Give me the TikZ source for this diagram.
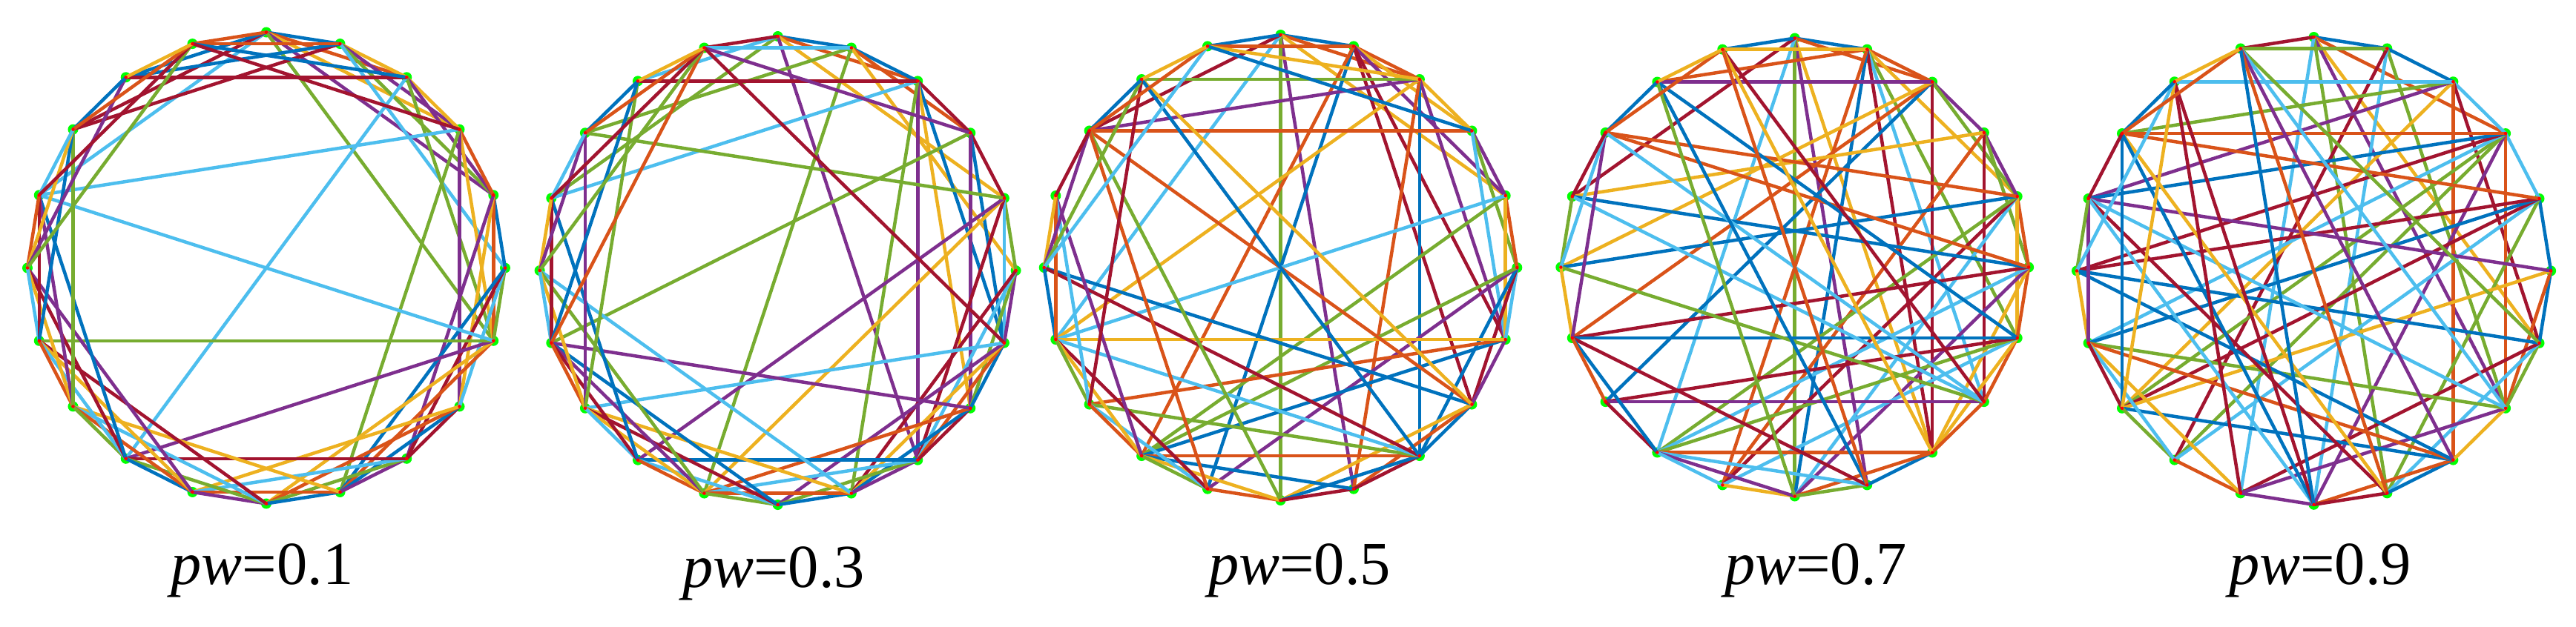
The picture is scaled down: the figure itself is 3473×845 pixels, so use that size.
\documentclass[tikz,border=0pt]{standalone}
\usepackage{fontspec}
\setmainfont{Liberation Serif}
\definecolor{c0}{HTML}{0072BD}
\definecolor{c1}{HTML}{D95319}
\definecolor{c2}{HTML}{EDB120}
\definecolor{c3}{HTML}{7E2F8E}
\definecolor{c4}{HTML}{77AC30}
\definecolor{c5}{HTML}{4DBEEE}
\definecolor{c6}{HTML}{A2142F}
\definecolor{vgreen}{HTML}{00FF00}
\definecolor{vred}{HTML}{FF0000}
\newcount\ecount
\def\splitentry#1:#2:#3\relax{\def\et{#1}\def\ec{#2}}
\def\emptyc{}
\tikzset{
  vtx/.style={circle, fill=vgreen, draw=none, inner sep=0pt, minimum size=2.8pt},
  edgeline/.style={line width=0.9pt},
  lbl/.style={inner sep=0pt, anchor=base, font=\fontsize{16.5pt}{20pt}\selectfont}
}
\newcommand\drawgraph[6]{%
  \foreach \n in {1,...,20}{%
    \node[vtx] (#1n\n) at ({#2+#4*cos(90-18*(\n-1))},{#3-#5*sin(90-18*(\n-1))}) {};
  }
  \global\ecount=0\relax
  \foreach \s/\tl in {#6}{%
    \foreach \t in \tl {%
      \expandafter\splitentry\t::\relax
      \ifx\ec\emptyc\pgfmathtruncatemacro\ci{mod(\the\ecount,7)}\else\let\ci\ec\fi
      \draw[edgeline,c\ci] (#1n\s.center) -- (#1n\et.center);
      \global\advance\ecount by 1\relax
    }
  }
  \foreach \n in {1,...,20}{%
    \fill[vred] (#1n\n.center) circle (0.45pt);
  }
}
\begin{document}
\begin{tikzpicture}[x=0.2pt,y=-0.2pt]
\useasboundingbox (0,0) rectangle (3473,845);
\drawgraph{ga}{359}{361.5}{322}{318}{1/{2,3,4,5,7,17,18,19,20}, 2/{3,4,5,6,18,19,20}, 3/{4,5,7,13,19,20}, 4/{5,7,8,10,17,20}, 5/{6,7,8,9}, 6/{7,8,9,10}, 7/{10,11,13,15,17}, 8/{9,10,11,12}, 9/{10,11,12,13}, 10/{11,12,14}, 11/{12,13,14,15}, 12/{13,14,15,16}, 13/{14,15,16,17}, 14/{15,16,17,18}, 15/{16,17,18}, 16/{17,18,19,20}, 17/{18,20}, 18/{19,20}, 19/{20}}
\drawgraph{gb}{1048.6}{365}{321}{316}{1/{2,3,5,9:3,17,19,20}, 2/{3,4,6,12:4,18,20:5}, 3/{4,7,8:2,9:3,10:4,17:5,19:6}, 4/{5,7,8:3,15:4,20}, 5/{6,7,9,12:2,13:3,18:4}, 6/{7,8,9,10}, 7/{8,9,10,11,14:5,20:6}, 8/{9,10,12,15:3}, 9/{10,11,12,13:0}, 10/{11,12,14,16:5}, 11/{12,13,14,15}, 12/{13,14,15,16}, 13/{14,15,17}, 14/{15,16,18,19:4}, 15/{16,17,19,20:1}, 16/{17,18,20}, 17/{18,20}, 18/{19,20}, 19/{20}}
\drawgraph{gc}{1726.5}{361}{318.8}{314}{1/{2,3,5,10:3,11:4,15:5,18,20}, 2/{3,4,5,7:6,8:6,12:0,13:1,20}, 3/{4,7,9:0,10:1,15:2,18:3,19:4,20}, 4/{5,6,7,18:1,20}, 5/{6,7,13:4,15:5}, 6/{7,8,9,12:3,13:4}, 7/{8,13:0,14:1,15:2}, 8/{9,10,11,16:0,18:1,19:2}, 9/{10,11,13,14:4,15:5,16:6,19:0}, 10/{11,13}, 11/{12,13,18:4}, 12/{13,14,15,18:1}, 13/{14,15,17}, 14/{15,17,19:6}, 15/{16,17}, 16/{17,18,19,20}, 17/{18}, 18/{19,20}, 19/{20}}
\drawgraph{gd}{2419.7}{360.5}{315.4}{309}{1/{2,3,9:2,10:3,11:4,13:5,17:6,20}, 2/{3,5,7:4,8:5,9:6,11:0,12:1,19,20}, 3/{4,5,9:6,14:0,15:1,16:2,19:3}, 4/{5,6,8:6,12:1,17:2}, 5/{6,7,11:5,12:6,13:4,16:0,18:1}, 6/{7,9,11:3,13:5,15:6,17:0,18:1}, 7/{8,9,12:5,13,14:6,15:0,19}, 8/{9,14:3,16:4,17:5,18,20:6}, 9/{10,11,13:1,20:2}, 10/{11,13,15:6,19:0,20:1}, 11/{12,13,19}, 12/{13}, 13/{14,15}, 14/{15}, 15/{16,18}, 16/{17,18}, 17/{18}, 18/{19,20}, 19/{20}}
\drawgraph{ge}{3119.5}{365.4}{319.6}{315.4}{1/{2,4,7:2,8:3,10:4,12:5,20}, 2/{3,8:4,11:5,13:6,20}, 3/{4,7,9:1,14:2,17:3,18:4,19:5}, 4/{5,8:1,11:3,13:4,14:4,15:5,16:6,17:0,18:1}, 5/{6,10:4,13:5,14:6,15:0,16:6,18:1}, 6/{7,8,14:2,17:3}, 7/{8,10,12:6,16:0,20:4}, 8/{9,12,15:4,17:5,20:5}, 9/{10,11,14:0,15:1,16:0,20:3}, 10/{11,17:6,18:2,20:1}, 11/{12,17:5,18:0,19:6,20:0}, 12/{13,15,19:6}, 13/{14,15}, 14/{15,18,19:2}, 15/{16,17}, 16/{17,19}, 17/{18}, 18/{19,20}, 19/{20}}
\node[lbl] (la) at (353.5,788) {\textit{pw}=0.1};
\node[lbl] (lb) at (1043,792) {\textit{pw}=0.3};
\node[lbl] (lc) at (1752,788) {\textit{pw}=0.5};
\node[lbl] (ld) at (2448,788) {\textit{pw}=0.7};
\node[lbl] (le) at (3128,788) {\textit{pw}=0.9};
\end{tikzpicture}
\end{document}
